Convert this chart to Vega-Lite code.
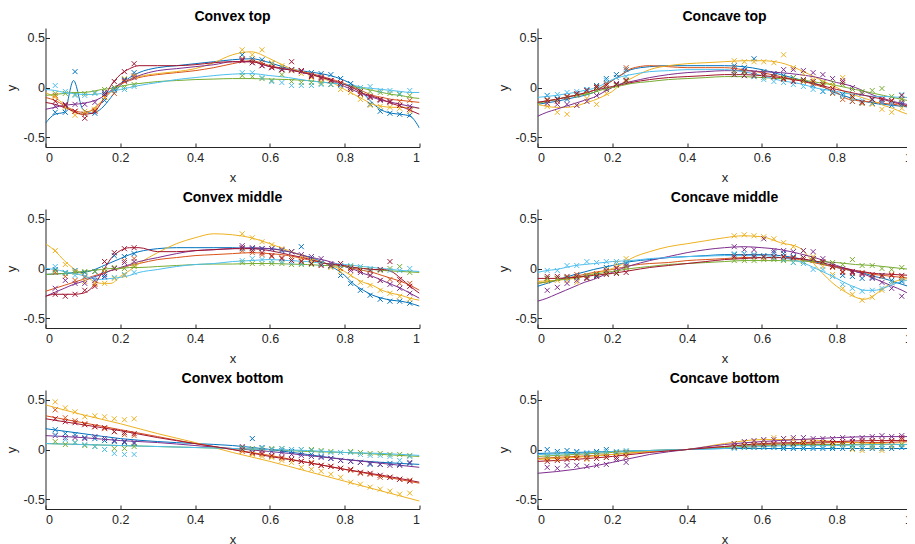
{
"$schema":"https://vega.github.io/schema/vega-lite/v6.json",
"background":"white",
"padding":{"left":5.5,"top":10,"right":-6,"bottom":0},
"data":{"values":[
{"p":"Convex top","t":"l","x":0,"a":-0.36,"b":-0.1,"c":-0.05,"d":-0.22,"e":-0.08,"f":-0.02,"g":-0.15},
{"p":"Convex top","t":"l","x":0.025,"a":-0.27,"b":-0.13,"c":-0.1,"d":-0.2,"e":-0.07,"f":-0.03,"g":-0.17},
{"p":"Convex top","t":"l","x":0.05,"a":-0.25,"b":-0.18,"c":-0.17,"d":-0.18,"e":-0.06,"f":-0.05,"g":-0.2},
{"p":"Convex top","t":"l","x":0.075,"a":0.07,"b":-0.23,"c":-0.25,"d":-0.17,"e":-0.05,"f":-0.06,"g":-0.24},
{"p":"Convex top","t":"l","x":0.1,"a":-0.22,"b":-0.25,"c":-0.27,"d":-0.16,"e":-0.05,"f":-0.07,"g":-0.27},
{"p":"Convex top","t":"l","x":0.125,"a":-0.26,"b":-0.23,"c":-0.22,"d":-0.14,"e":-0.04,"f":-0.07,"g":-0.26},
{"p":"Convex top","t":"l","x":0.15,"a":-0.21,"b":-0.14,"c":-0.14,"d":-0.1,"e":-0.02,"f":-0.06,"g":-0.15},
{"p":"Convex top","t":"l","x":0.175,"a":-0.1,"b":-0.04,"c":-0.04,"d":-0.03,"e":-0.01,"f":-0.04,"g":0.02},
{"p":"Convex top","t":"l","x":0.2,"a":0.02,"b":0.03,"c":0.04,"d":0.04,"e":0.01,"f":-0.02,"g":0.13},
{"p":"Convex top","t":"l","x":0.225,"a":0.1,"b":0.07,"c":0.08,"d":0.08,"e":0.03,"f":0,"g":0.19},
{"p":"Convex top","t":"l","x":0.25,"a":0.15,"b":0.1,"c":0.11,"d":0.12,"e":0.04,"f":0.02,"g":0.22},
{"p":"Convex top","t":"l","x":0.3,"a":0.2,"b":0.13,"c":0.14,"d":0.17,"e":0.06,"f":0.05,"g":0.22},
{"p":"Convex top","t":"l","x":0.35,"a":0.22,"b":0.15,"c":0.16,"d":0.19,"e":0.07,"f":0.08,"g":0.22},
{"p":"Convex top","t":"l","x":0.4,"a":0.24,"b":0.17,"c":0.19,"d":0.21,"e":0.08,"f":0.1,"g":0.23},
{"p":"Convex top","t":"l","x":0.45,"a":0.26,"b":0.2,"c":0.25,"d":0.23,"e":0.085,"f":0.12,"g":0.25},
{"p":"Convex top","t":"l","x":0.5,"a":0.28,"b":0.24,"c":0.33,"d":0.26,"e":0.09,"f":0.135,"g":0.26},
{"p":"Convex top","t":"l","x":0.55,"a":0.29,"b":0.27,"c":0.36,"d":0.26,"e":0.09,"f":0.14,"g":0.26},
{"p":"Convex top","t":"l","x":0.6,"a":0.25,"b":0.22,"c":0.29,"d":0.21,"e":0.085,"f":0.12,"g":0.21},
{"p":"Convex top","t":"l","x":0.65,"a":0.19,"b":0.18,"c":0.2,"d":0.18,"e":0.08,"f":0.1,"g":0.18},
{"p":"Convex top","t":"l","x":0.7,"a":0.16,"b":0.15,"c":0.14,"d":0.14,"e":0.07,"f":0.07,"g":0.14},
{"p":"Convex top","t":"l","x":0.75,"a":0.13,"b":0.1,"c":0.08,"d":0.09,"e":0.05,"f":0.05,"g":0.09},
{"p":"Convex top","t":"l","x":0.8,"a":0.07,"b":0.04,"c":-0.02,"d":0.01,"e":0.03,"f":0.03,"g":0.03},
{"p":"Convex top","t":"l","x":0.825,"a":0.02,"b":0,"c":-0.07,"d":-0.03,"e":0.01,"f":0.02,"g":-0.01},
{"p":"Convex top","t":"l","x":0.85,"a":-0.06,"b":-0.04,"c":-0.12,"d":-0.07,"e":-0.01,"f":0,"g":-0.06},
{"p":"Convex top","t":"l","x":0.875,"a":-0.16,"b":-0.08,"c":-0.17,"d":-0.1,"e":-0.03,"f":-0.01,"g":-0.09},
{"p":"Convex top","t":"l","x":0.9,"a":-0.23,"b":-0.1,"c":-0.19,"d":-0.13,"e":-0.05,"f":-0.02,"g":-0.12},
{"p":"Convex top","t":"l","x":0.925,"a":-0.26,"b":-0.12,"c":-0.2,"d":-0.15,"e":-0.07,"f":-0.03,"g":-0.16},
{"p":"Convex top","t":"l","x":0.95,"a":-0.27,"b":-0.13,"c":-0.2,"d":-0.17,"e":-0.08,"f":-0.04,"g":-0.19},
{"p":"Convex top","t":"l","x":0.975,"a":-0.29,"b":-0.14,"c":-0.2,"d":-0.19,"e":-0.1,"f":-0.05,"g":-0.23},
{"p":"Convex top","t":"l","x":1,"a":-0.41,"b":-0.15,"c":-0.21,"d":-0.21,"e":-0.11,"f":-0.05,"g":-0.27},
{"p":"Concave top","t":"l","x":0,"a":-0.17,"b":-0.15,"c":-0.17,"d":-0.29,"e":-0.16,"f":-0.1,"g":-0.15},
{"p":"Concave top","t":"l","x":0.025,"a":-0.155,"b":-0.135,"c":-0.19,"d":-0.25,"e":-0.14,"f":-0.09,"g":-0.135},
{"p":"Concave top","t":"l","x":0.05,"a":-0.14,"b":-0.12,"c":-0.2,"d":-0.22,"e":-0.12,"f":-0.08,"g":-0.12},
{"p":"Concave top","t":"l","x":0.075,"a":-0.12,"b":-0.1,"c":-0.2,"d":-0.19,"e":-0.1,"f":-0.065,"g":-0.1},
{"p":"Concave top","t":"l","x":0.1,"a":-0.1,"b":-0.08,"c":-0.19,"d":-0.16,"e":-0.08,"f":-0.05,"g":-0.08},
{"p":"Concave top","t":"l","x":0.125,"a":-0.08,"b":-0.06,"c":-0.16,"d":-0.13,"e":-0.07,"f":-0.03,"g":-0.055},
{"p":"Concave top","t":"l","x":0.15,"a":-0.05,"b":-0.03,"c":-0.13,"d":-0.1,"e":-0.05,"f":-0.01,"g":-0.03},
{"p":"Concave top","t":"l","x":0.175,"a":0.01,"b":0.01,"c":-0.09,"d":-0.05,"e":-0.02,"f":0.03,"g":-0.01},
{"p":"Concave top","t":"l","x":0.2,"a":0.07,"b":0.07,"c":-0.04,"d":0,"e":0,"f":0.08,"g":0.01},
{"p":"Concave top","t":"l","x":0.225,"a":0.13,"b":0.13,"c":0.04,"d":0.04,"e":0.02,"f":0.11,"g":0.03},
{"p":"Concave top","t":"l","x":0.25,"a":0.18,"b":0.19,"c":0.09,"d":0.06,"e":0.04,"f":0.13,"g":0.05},
{"p":"Concave top","t":"l","x":0.3,"a":0.21,"b":0.22,"c":0.18,"d":0.1,"e":0.06,"f":0.16,"g":0.08},
{"p":"Concave top","t":"l","x":0.35,"a":0.22,"b":0.21,"c":0.22,"d":0.13,"e":0.08,"f":0.17,"g":0.1},
{"p":"Concave top","t":"l","x":0.4,"a":0.22,"b":0.2,"c":0.24,"d":0.15,"e":0.09,"f":0.18,"g":0.11},
{"p":"Concave top","t":"l","x":0.45,"a":0.22,"b":0.2,"c":0.25,"d":0.16,"e":0.1,"f":0.18,"g":0.12},
{"p":"Concave top","t":"l","x":0.5,"a":0.22,"b":0.2,"c":0.26,"d":0.17,"e":0.11,"f":0.18,"g":0.13},
{"p":"Concave top","t":"l","x":0.55,"a":0.21,"b":0.18,"c":0.27,"d":0.17,"e":0.11,"f":0.16,"g":0.13},
{"p":"Concave top","t":"l","x":0.6,"a":0.18,"b":0.15,"c":0.27,"d":0.16,"e":0.1,"f":0.12,"g":0.12},
{"p":"Concave top","t":"l","x":0.65,"a":0.13,"b":0.11,"c":0.25,"d":0.15,"e":0.09,"f":0.07,"g":0.1},
{"p":"Concave top","t":"l","x":0.7,"a":0.08,"b":0.07,"c":0.18,"d":0.13,"e":0.08,"f":0.04,"g":0.07},
{"p":"Concave top","t":"l","x":0.75,"a":0.03,"b":0.02,"c":0.09,"d":0.1,"e":0.05,"f":-0.01,"g":0.03},
{"p":"Concave top","t":"l","x":0.8,"a":-0.06,"b":-0.05,"c":0,"d":0.05,"e":0.02,"f":-0.04,"g":-0.02},
{"p":"Concave top","t":"l","x":0.825,"a":-0.09,"b":-0.11,"c":-0.05,"d":0.03,"e":0,"f":-0.06,"g":-0.04},
{"p":"Concave top","t":"l","x":0.85,"a":-0.12,"b":-0.13,"c":-0.08,"d":0,"e":-0.02,"f":-0.07,"g":-0.06},
{"p":"Concave top","t":"l","x":0.875,"a":-0.14,"b":-0.14,"c":-0.11,"d":-0.04,"e":-0.04,"f":-0.08,"g":-0.08},
{"p":"Concave top","t":"l","x":0.9,"a":-0.16,"b":-0.15,"c":-0.14,"d":-0.08,"e":-0.06,"f":-0.09,"g":-0.1},
{"p":"Concave top","t":"l","x":0.925,"a":-0.17,"b":-0.16,"c":-0.18,"d":-0.11,"e":-0.08,"f":-0.09,"g":-0.12},
{"p":"Concave top","t":"l","x":0.95,"a":-0.18,"b":-0.17,"c":-0.21,"d":-0.14,"e":-0.1,"f":-0.095,"g":-0.15},
{"p":"Concave top","t":"l","x":0.975,"a":-0.19,"b":-0.18,"c":-0.25,"d":-0.16,"e":-0.12,"f":-0.1,"g":-0.17},
{"p":"Concave top","t":"l","x":1,"a":-0.2,"b":-0.2,"c":-0.28,"d":-0.18,"e":-0.14,"f":-0.1,"g":-0.2},
{"p":"Convex middle","t":"l","x":0,"a":-0.06,"b":-0.23,"c":0.25,"d":-0.28,"e":-0.06,"f":0,"g":-0.28},
{"p":"Convex middle","t":"l","x":0.025,"a":-0.055,"b":-0.2,"c":0.18,"d":-0.24,"e":-0.055,"f":-0.01,"g":-0.26},
{"p":"Convex middle","t":"l","x":0.05,"a":-0.05,"b":-0.17,"c":0.08,"d":-0.2,"e":-0.05,"f":-0.03,"g":-0.26},
{"p":"Convex middle","t":"l","x":0.075,"a":-0.045,"b":-0.14,"c":0,"d":-0.16,"e":-0.04,"f":-0.05,"g":-0.26},
{"p":"Convex middle","t":"l","x":0.1,"a":-0.04,"b":-0.11,"c":-0.06,"d":-0.13,"e":-0.03,"f":-0.07,"g":-0.25},
{"p":"Convex middle","t":"l","x":0.125,"a":-0.02,"b":-0.08,"c":-0.12,"d":-0.09,"e":-0.02,"f":-0.1,"g":-0.19},
{"p":"Convex middle","t":"l","x":0.15,"a":0.02,"b":-0.05,"c":-0.15,"d":-0.06,"e":-0.01,"f":-0.11,"g":-0.05},
{"p":"Convex middle","t":"l","x":0.175,"a":0.06,"b":-0.02,"c":-0.15,"d":-0.02,"e":0,"f":-0.1,"g":0.1},
{"p":"Convex middle","t":"l","x":0.2,"a":0.1,"b":0,"c":-0.08,"d":0.01,"e":0,"f":-0.09,"g":0.18},
{"p":"Convex middle","t":"l","x":0.225,"a":0.14,"b":0.03,"c":-0.02,"d":0.04,"e":0.01,"f":-0.07,"g":0.21},
{"p":"Convex middle","t":"l","x":0.25,"a":0.17,"b":0.05,"c":0.05,"d":0.07,"e":0.01,"f":-0.04,"g":0.21},
{"p":"Convex middle","t":"l","x":0.3,"a":0.2,"b":0.09,"c":0.16,"d":0.11,"e":0.02,"f":-0.01,"g":0.17},
{"p":"Convex middle","t":"l","x":0.35,"a":0.21,"b":0.11,"c":0.25,"d":0.15,"e":0.03,"f":0.02,"g":0.17},
{"p":"Convex middle","t":"l","x":0.4,"a":0.21,"b":0.13,"c":0.31,"d":0.18,"e":0.04,"f":0.04,"g":0.18},
{"p":"Convex middle","t":"l","x":0.45,"a":0.21,"b":0.14,"c":0.35,"d":0.19,"e":0.045,"f":0.05,"g":0.19},
{"p":"Convex middle","t":"l","x":0.5,"a":0.21,"b":0.15,"c":0.34,"d":0.2,"e":0.045,"f":0.07,"g":0.2},
{"p":"Convex middle","t":"l","x":0.55,"a":0.2,"b":0.16,"c":0.31,"d":0.21,"e":0.05,"f":0.08,"g":0.2},
{"p":"Convex middle","t":"l","x":0.6,"a":0.2,"b":0.15,"c":0.25,"d":0.2,"e":0.05,"f":0.09,"g":0.18},
{"p":"Convex middle","t":"l","x":0.65,"a":0.17,"b":0.13,"c":0.18,"d":0.17,"e":0.045,"f":0.08,"g":0.14},
{"p":"Convex middle","t":"l","x":0.7,"a":0.12,"b":0.09,"c":0.11,"d":0.12,"e":0.04,"f":0.07,"g":0.1},
{"p":"Convex middle","t":"l","x":0.75,"a":0.05,"b":0.05,"c":0.05,"d":0.08,"e":0.03,"f":0.05,"g":0.05},
{"p":"Convex middle","t":"l","x":0.8,"a":-0.07,"b":0.02,"c":-0.03,"d":0.02,"e":0.02,"f":0.04,"g":0.03},
{"p":"Convex middle","t":"l","x":0.825,"a":-0.16,"b":0,"c":-0.09,"d":-0.01,"e":0.01,"f":0.03,"g":0.01},
{"p":"Convex middle","t":"l","x":0.85,"a":-0.22,"b":-0.02,"c":-0.14,"d":-0.05,"e":0,"f":0.02,"g":0},
{"p":"Convex middle","t":"l","x":0.875,"a":-0.27,"b":-0.04,"c":-0.17,"d":-0.08,"e":-0.01,"f":0.01,"g":-0.01},
{"p":"Convex middle","t":"l","x":0.9,"a":-0.3,"b":-0.07,"c":-0.22,"d":-0.12,"e":-0.02,"f":0,"g":-0.01},
{"p":"Convex middle","t":"l","x":0.925,"a":-0.32,"b":-0.1,"c":-0.25,"d":-0.16,"e":-0.025,"f":-0.01,"g":-0.03},
{"p":"Convex middle","t":"l","x":0.95,"a":-0.33,"b":-0.13,"c":-0.27,"d":-0.2,"e":-0.03,"f":-0.02,"g":-0.1},
{"p":"Convex middle","t":"l","x":0.975,"a":-0.35,"b":-0.17,"c":-0.3,"d":-0.25,"e":-0.035,"f":-0.025,"g":-0.18},
{"p":"Convex middle","t":"l","x":1,"a":-0.38,"b":-0.22,"c":-0.32,"d":-0.3,"e":-0.04,"f":-0.03,"g":-0.25},
{"p":"Concave middle","t":"l","x":0,"a":-0.18,"b":-0.15,"c":-0.13,"d":-0.33,"e":-0.15,"f":-0.04,"g":-0.1},
{"p":"Concave middle","t":"l","x":0.025,"a":-0.15,"b":-0.135,"c":-0.125,"d":-0.3,"e":-0.135,"f":-0.02,"g":-0.1},
{"p":"Concave middle","t":"l","x":0.05,"a":-0.12,"b":-0.12,"c":-0.12,"d":-0.26,"e":-0.12,"f":-0.01,"g":-0.1},
{"p":"Concave middle","t":"l","x":0.075,"a":-0.09,"b":-0.1,"c":-0.11,"d":-0.22,"e":-0.105,"f":0.01,"g":-0.095},
{"p":"Concave middle","t":"l","x":0.1,"a":-0.06,"b":-0.08,"c":-0.1,"d":-0.18,"e":-0.09,"f":0.03,"g":-0.09},
{"p":"Concave middle","t":"l","x":0.125,"a":-0.035,"b":-0.06,"c":-0.08,"d":-0.14,"e":-0.075,"f":0.04,"g":-0.08},
{"p":"Concave middle","t":"l","x":0.15,"a":-0.01,"b":-0.04,"c":-0.05,"d":-0.11,"e":-0.06,"f":0.05,"g":-0.07},
{"p":"Concave middle","t":"l","x":0.175,"a":0.01,"b":-0.025,"c":-0.03,"d":-0.07,"e":-0.045,"f":0.06,"g":-0.06},
{"p":"Concave middle","t":"l","x":0.2,"a":0.03,"b":-0.01,"c":0,"d":-0.04,"e":-0.03,"f":0.07,"g":-0.05},
{"p":"Concave middle","t":"l","x":0.225,"a":0.05,"b":0.01,"c":0.04,"d":0,"e":-0.015,"f":0.075,"g":-0.035},
{"p":"Concave middle","t":"l","x":0.25,"a":0.07,"b":0.03,"c":0.1,"d":0.03,"e":0,"f":0.08,"g":-0.02},
{"p":"Concave middle","t":"l","x":0.3,"a":0.09,"b":0.05,"c":0.17,"d":0.08,"e":0.02,"f":0.1,"g":0.01},
{"p":"Concave middle","t":"l","x":0.35,"a":0.11,"b":0.06,"c":0.22,"d":0.12,"e":0.04,"f":0.11,"g":0.03},
{"p":"Concave middle","t":"l","x":0.4,"a":0.12,"b":0.08,"c":0.25,"d":0.16,"e":0.05,"f":0.12,"g":0.05},
{"p":"Concave middle","t":"l","x":0.45,"a":0.13,"b":0.09,"c":0.28,"d":0.19,"e":0.06,"f":0.125,"g":0.07},
{"p":"Concave middle","t":"l","x":0.5,"a":0.14,"b":0.1,"c":0.31,"d":0.21,"e":0.07,"f":0.13,"g":0.09},
{"p":"Concave middle","t":"l","x":0.55,"a":0.14,"b":0.11,"c":0.33,"d":0.22,"e":0.08,"f":0.13,"g":0.1},
{"p":"Concave middle","t":"l","x":0.6,"a":0.14,"b":0.11,"c":0.32,"d":0.21,"e":0.08,"f":0.13,"g":0.11},
{"p":"Concave middle","t":"l","x":0.65,"a":0.13,"b":0.11,"c":0.26,"d":0.19,"e":0.08,"f":0.11,"g":0.11},
{"p":"Concave middle","t":"l","x":0.7,"a":0.1,"b":0.09,"c":0.21,"d":0.15,"e":0.075,"f":0.07,"g":0.1},
{"p":"Concave middle","t":"l","x":0.75,"a":0.06,"b":0.05,"c":0,"d":0.1,"e":0.07,"f":-0.01,"g":0.07},
{"p":"Concave middle","t":"l","x":0.8,"a":0.01,"b":0.01,"c":-0.18,"d":0.03,"e":0.06,"f":-0.1,"g":0.02},
{"p":"Concave middle","t":"l","x":0.825,"a":-0.01,"b":-0.01,"c":-0.24,"d":0,"e":0.05,"f":-0.15,"g":0},
{"p":"Concave middle","t":"l","x":0.85,"a":-0.03,"b":-0.03,"c":-0.29,"d":-0.03,"e":0.04,"f":-0.19,"g":-0.02},
{"p":"Concave middle","t":"l","x":0.875,"a":-0.05,"b":-0.04,"c":-0.31,"d":-0.06,"e":0.035,"f":-0.22,"g":-0.035},
{"p":"Concave middle","t":"l","x":0.9,"a":-0.08,"b":-0.06,"c":-0.27,"d":-0.1,"e":0.03,"f":-0.22,"g":-0.05},
{"p":"Concave middle","t":"l","x":0.925,"a":-0.1,"b":-0.07,"c":-0.2,"d":-0.14,"e":0.02,"f":-0.2,"g":-0.055},
{"p":"Concave middle","t":"l","x":0.95,"a":-0.13,"b":-0.08,"c":-0.14,"d":-0.18,"e":0.01,"f":-0.16,"g":-0.06},
{"p":"Concave middle","t":"l","x":0.975,"a":-0.16,"b":-0.09,"c":-0.11,"d":-0.22,"e":0,"f":-0.13,"g":-0.065},
{"p":"Concave middle","t":"l","x":1,"a":-0.19,"b":-0.1,"c":-0.1,"d":-0.27,"e":-0.01,"f":-0.11,"g":-0.07},
{"p":"Convex bottom","t":"l","x":0,"a":0.21,"b":0.34,"c":0.45,"d":0.14,"e":0.06,"f":0.06,"g":0.31},
{"p":"Convex bottom","t":"l","x":0.1,"a":0.16,"b":0.27,"c":0.35,"d":0.12,"e":0.05,"f":0.05,"g":0.25},
{"p":"Convex bottom","t":"l","x":0.2,"a":0.11,"b":0.2,"c":0.26,"d":0.09,"e":0.04,"f":0.04,"g":0.19},
{"p":"Convex bottom","t":"l","x":0.3,"a":0.08,"b":0.13,"c":0.16,"d":0.07,"e":0.03,"f":0.03,"g":0.12},
{"p":"Convex bottom","t":"l","x":0.4,"a":0.06,"b":0.06,"c":0.07,"d":0.04,"e":0.02,"f":0.02,"g":0.06},
{"p":"Convex bottom","t":"l","x":0.5,"a":0.04,"b":0,"c":-0.03,"d":0.01,"e":0.01,"f":0.01,"g":0},
{"p":"Convex bottom","t":"l","x":0.6,"a":0,"b":-0.06,"c":-0.12,"d":-0.02,"e":0,"f":0,"g":-0.07},
{"p":"Convex bottom","t":"l","x":0.7,"a":-0.05,"b":-0.13,"c":-0.22,"d":-0.06,"e":-0.02,"f":-0.01,"g":-0.13},
{"p":"Convex bottom","t":"l","x":0.8,"a":-0.1,"b":-0.2,"c":-0.32,"d":-0.1,"e":-0.03,"f":-0.03,"g":-0.2},
{"p":"Convex bottom","t":"l","x":0.9,"a":-0.13,"b":-0.27,"c":-0.42,"d":-0.14,"e":-0.05,"f":-0.04,"g":-0.26},
{"p":"Convex bottom","t":"l","x":1,"a":-0.15,"b":-0.34,"c":-0.52,"d":-0.18,"e":-0.07,"f":-0.06,"g":-0.33},
{"p":"Concave bottom","t":"l","x":0,"a":-0.04,"b":-0.09,"c":-0.1,"d":-0.24,"e":-0.07,"f":-0.05,"g":-0.12},
{"p":"Concave bottom","t":"l","x":0.1,"a":-0.03,"b":-0.07,"c":-0.08,"d":-0.2,"e":-0.05,"f":-0.04,"g":-0.1},
{"p":"Concave bottom","t":"l","x":0.2,"a":-0.02,"b":-0.05,"c":-0.05,"d":-0.13,"e":-0.03,"f":-0.02,"g":-0.07},
{"p":"Concave bottom","t":"l","x":0.3,"a":-0.01,"b":-0.02,"c":-0.02,"d":-0.05,"e":-0.01,"f":-0.01,"g":-0.03},
{"p":"Concave bottom","t":"l","x":0.4,"a":0,"b":0,"c":0,"d":0,"e":0,"f":0,"g":0},
{"p":"Concave bottom","t":"l","x":0.5,"a":0.01,"b":0.03,"c":0.06,"d":0.05,"e":0.02,"f":0.01,"g":0.03},
{"p":"Concave bottom","t":"l","x":0.6,"a":0.01,"b":0.05,"c":0.1,"d":0.08,"e":0.04,"f":0.03,"g":0.06},
{"p":"Concave bottom","t":"l","x":0.7,"a":0.01,"b":0.06,"c":0.1,"d":0.1,"e":0.05,"f":0.04,"g":0.07},
{"p":"Concave bottom","t":"l","x":0.8,"a":0.01,"b":0.07,"c":0.08,"d":0.12,"e":0.05,"f":0.04,"g":0.08},
{"p":"Concave bottom","t":"l","x":0.9,"a":0.01,"b":0.07,"c":0.06,"d":0.13,"e":0.05,"f":0.05,"g":0.09},
{"p":"Concave bottom","t":"l","x":1,"a":0.01,"b":0.08,"c":0.05,"d":0.13,"e":0.05,"f":0.05,"g":0.09},
{"p":"Convex top","t":"m","x":0.026,"a":-0.25,"b":-0.08,"c":-0.09,"d":-0.19,"e":-0.06,"f":0.02,"g":-0.14},
{"p":"Convex top","t":"m","x":0.053,"a":-0.25,"b":-0.17,"c":-0.2,"d":-0.17,"e":-0.06,"f":-0.04,"g":-0.18},
{"p":"Convex top","t":"m","x":0.079,"a":0.16,"b":-0.24,"c":-0.28,"d":-0.17,"e":-0.07,"f":-0.08,"g":-0.24},
{"p":"Convex top","t":"m","x":0.105,"a":-0.27,"b":-0.27,"c":-0.24,"d":-0.17,"e":-0.06,"f":-0.08,"g":-0.31},
{"p":"Convex top","t":"m","x":0.132,"a":-0.26,"b":-0.23,"c":-0.22,"d":-0.15,"e":-0.05,"f":-0.06,"g":-0.24},
{"p":"Convex top","t":"m","x":0.158,"a":-0.13,"b":-0.1,"c":-0.1,"d":-0.05,"e":-0.02,"f":-0.06,"g":-0.07},
{"p":"Convex top","t":"m","x":0.184,"a":-0.02,"b":-0.06,"c":-0.03,"d":0,"e":0,"f":-0.03,"g":0.06},
{"p":"Convex top","t":"m","x":0.211,"a":0.08,"b":0.06,"c":0.09,"d":0.07,"e":0,"f":-0.02,"g":0.16},
{"p":"Convex top","t":"m","x":0.237,"a":0.15,"b":0.12,"c":0.11,"d":0.1,"e":0.03,"f":0.01,"g":0.24},
{"p":"Convex top","t":"m","x":0.526,"a":0.33,"b":0.29,"c":0.38,"d":0.28,"e":0.12,"f":0.15,"g":0.27},
{"p":"Convex top","t":"m","x":0.553,"a":0.29,"b":0.27,"c":0.33,"d":0.25,"e":0.11,"f":0.15,"g":0.25},
{"p":"Convex top","t":"m","x":0.579,"a":0.28,"b":0.25,"c":0.38,"d":0.22,"e":0.09,"f":0.1,"g":0.22},
{"p":"Convex top","t":"m","x":0.605,"a":0.24,"b":0.21,"c":0.25,"d":0.2,"e":0.07,"f":0.06,"g":0.2},
{"p":"Convex top","t":"m","x":0.632,"a":0.2,"b":0.18,"c":0.22,"d":0.18,"e":0.13,"f":0.05,"g":0.18},
{"p":"Convex top","t":"m","x":0.658,"a":0.18,"b":0.17,"c":0.18,"d":0.18,"e":0.06,"f":0.02,"g":0.26},
{"p":"Convex top","t":"m","x":0.684,"a":0.17,"b":0.17,"c":0.14,"d":0.16,"e":0.05,"f":0.02,"g":0.17},
{"p":"Convex top","t":"m","x":0.711,"a":0.15,"b":0.13,"c":0.1,"d":0.12,"e":0.05,"f":0.02,"g":0.11},
{"p":"Convex top","t":"m","x":0.737,"a":0.14,"b":0.11,"c":0.06,"d":0.1,"e":0.04,"f":0.03,"g":0.09},
{"p":"Convex top","t":"m","x":0.763,"a":0.13,"b":0.07,"c":0.03,"d":0.07,"e":0.03,"f":0.03,"g":0.07},
{"p":"Convex top","t":"m","x":0.789,"a":0.09,"b":0.04,"c":-0.02,"d":0.03,"e":0.02,"f":0.02,"g":0.05},
{"p":"Convex top","t":"m","x":0.816,"a":0.04,"b":-0.02,"c":-0.05,"d":-0.02,"e":0,"f":0,"g":0},
{"p":"Convex top","t":"m","x":0.842,"a":-0.07,"b":-0.07,"c":-0.12,"d":-0.06,"e":-0.02,"f":0,"g":-0.04},
{"p":"Convex top","t":"m","x":0.868,"a":-0.17,"b":-0.1,"c":-0.18,"d":-0.1,"e":-0.04,"f":0.01,"g":-0.09},
{"p":"Convex top","t":"m","x":0.895,"a":-0.24,"b":-0.12,"c":-0.19,"d":-0.13,"e":-0.05,"f":-0.03,"g":-0.12},
{"p":"Convex top","t":"m","x":0.921,"a":-0.26,"b":-0.14,"c":-0.2,"d":-0.14,"e":-0.06,"f":-0.03,"g":-0.15},
{"p":"Convex top","t":"m","x":0.947,"a":-0.27,"b":-0.14,"c":-0.21,"d":-0.18,"e":-0.07,"f":-0.06,"g":-0.18},
{"p":"Convex top","t":"m","x":0.974,"a":-0.28,"b":-0.13,"c":-0.24,"d":-0.19,"e":-0.08,"f":-0.03,"g":-0.22},
{"p":"Concave top","t":"m","x":0.026,"a":-0.08,"b":-0.12,"c":-0.19,"d":-0.16,"e":-0.13,"f":-0.08,"g":-0.13},
{"p":"Concave top","t":"m","x":0.053,"a":-0.11,"b":-0.14,"c":-0.25,"d":-0.17,"e":-0.12,"f":-0.07,"g":-0.12},
{"p":"Concave top","t":"m","x":0.079,"a":-0.12,"b":-0.1,"c":-0.27,"d":-0.17,"e":-0.09,"f":-0.05,"g":-0.09},
{"p":"Concave top","t":"m","x":0.105,"a":-0.07,"b":-0.07,"c":-0.18,"d":-0.18,"e":-0.08,"f":-0.04,"g":-0.06},
{"p":"Concave top","t":"m","x":0.132,"a":-0.02,"b":-0.03,"c":-0.11,"d":-0.14,"e":-0.06,"f":-0.02,"g":-0.03},
{"p":"Concave top","t":"m","x":0.158,"a":0.02,"b":0.01,"c":-0.17,"d":-0.08,"e":-0.03,"f":0,"g":0},
{"p":"Concave top","t":"m","x":0.184,"a":0.09,"b":0.04,"c":-0.06,"d":-0.02,"e":-0.01,"f":0.07,"g":0.02},
{"p":"Concave top","t":"m","x":0.211,"a":0.13,"b":0.1,"c":0.03,"d":0.04,"e":0.02,"f":0.1,"g":0.03},
{"p":"Concave top","t":"m","x":0.237,"a":0.18,"b":0.2,"c":0.08,"d":0.07,"e":0.06,"f":0.11,"g":0.07},
{"p":"Concave top","t":"m","x":0.526,"a":0.22,"b":0.2,"c":0.27,"d":0.17,"e":0.15,"f":0.13,"g":0.13},
{"p":"Concave top","t":"m","x":0.553,"a":0.2,"b":0.16,"c":0.26,"d":0.17,"e":0.15,"f":0.12,"g":0.12},
{"p":"Concave top","t":"m","x":0.579,"a":0.29,"b":0.14,"c":0.26,"d":0.15,"e":0.11,"f":0.11,"g":0.12},
{"p":"Concave top","t":"m","x":0.605,"a":0.16,"b":0.15,"c":0.26,"d":0.14,"e":0.1,"f":0.08,"g":0.12},
{"p":"Concave top","t":"m","x":0.632,"a":0.14,"b":0.1,"c":0.25,"d":0.14,"e":0.11,"f":0.06,"g":0.11},
{"p":"Concave top","t":"m","x":0.658,"a":0.12,"b":0.08,"c":0.33,"d":0.18,"e":0.1,"f":0.05,"g":0.09},
{"p":"Concave top","t":"m","x":0.684,"a":0.1,"b":0.07,"c":0.2,"d":0.18,"e":0.1,"f":0.03,"g":0.06},
{"p":"Concave top","t":"m","x":0.711,"a":0.07,"b":0.06,"c":0.14,"d":0.17,"e":0.07,"f":0.01,"g":0.08},
{"p":"Concave top","t":"m","x":0.737,"a":0.02,"b":0.04,"c":0.08,"d":0.15,"e":0.06,"f":-0.02,"g":0.06},
{"p":"Concave top","t":"m","x":0.763,"a":-0.04,"b":0.03,"c":0.05,"d":0.13,"e":0.05,"f":-0.04,"g":0.03},
{"p":"Concave top","t":"m","x":0.789,"a":-0.05,"b":-0.06,"c":0.02,"d":0.09,"e":0.05,"f":-0.05,"g":-0.01},
{"p":"Concave top","t":"m","x":0.816,"a":-0.07,"b":-0.12,"c":0.1,"d":0.07,"e":0.03,"f":-0.09,"g":0.05},
{"p":"Concave top","t":"m","x":0.842,"a":-0.14,"b":-0.14,"c":-0.1,"d":0,"e":-0.02,"f":-0.11,"g":-0.09},
{"p":"Concave top","t":"m","x":0.868,"a":-0.16,"b":-0.15,"c":-0.16,"d":-0.06,"e":-0.04,"f":-0.13,"g":-0.15},
{"p":"Concave top","t":"m","x":0.895,"a":-0.16,"b":-0.12,"c":-0.17,"d":-0.12,"e":-0.03,"f":-0.13,"g":-0.12},
{"p":"Concave top","t":"m","x":0.921,"a":-0.15,"b":-0.12,"c":-0.22,"d":-0.14,"e":-0.01,"f":-0.15,"g":-0.12},
{"p":"Concave top","t":"m","x":0.947,"a":-0.18,"b":-0.14,"c":-0.25,"d":-0.16,"e":-0.09,"f":-0.16,"g":-0.13},
{"p":"Concave top","t":"m","x":0.974,"a":-0.17,"b":-0.12,"c":-0.21,"d":-0.15,"e":-0.12,"f":-0.07,"g":-0.08},
{"p":"Convex middle","t":"m","x":0.026,"a":-0.01,"b":-0.04,"c":0.18,"d":-0.2,"e":-0.02,"f":0.02,"g":-0.26},
{"p":"Convex middle","t":"m","x":0.053,"a":-0.04,"b":-0.08,"c":0.04,"d":-0.12,"e":-0.05,"f":-0.04,"g":-0.28},
{"p":"Convex middle","t":"m","x":0.079,"a":-0.02,"b":-0.12,"c":-0.03,"d":-0.15,"e":-0.04,"f":-0.07,"g":-0.26},
{"p":"Convex middle","t":"m","x":0.105,"a":-0.04,"b":-0.09,"c":-0.13,"d":-0.15,"e":-0.03,"f":-0.08,"g":-0.22},
{"p":"Convex middle","t":"m","x":0.132,"a":-0.03,"b":-0.16,"c":-0.15,"d":-0.12,"e":-0.03,"f":-0.1,"g":-0.18},
{"p":"Convex middle","t":"m","x":0.158,"a":-0.06,"b":-0.04,"c":-0.15,"d":-0.08,"e":-0.01,"f":-0.09,"g":0.07},
{"p":"Convex middle","t":"m","x":0.184,"a":0.13,"b":0,"c":-0.1,"d":0,"e":0.01,"f":-0.09,"g":0.16},
{"p":"Convex middle","t":"m","x":0.211,"a":0.12,"b":0.08,"c":-0.07,"d":0.06,"e":0,"f":-0.06,"g":0.2},
{"p":"Convex middle","t":"m","x":0.237,"a":0.15,"b":0.1,"c":0.04,"d":0.07,"e":0.02,"f":-0.04,"g":0.21},
{"p":"Convex middle","t":"m","x":0.526,"a":0.2,"b":0.18,"c":0.35,"d":0.23,"e":0.06,"f":0.08,"g":0.21},
{"p":"Convex middle","t":"m","x":0.553,"a":0.2,"b":0.16,"c":0.31,"d":0.21,"e":0.05,"f":0.1,"g":0.18},
{"p":"Convex middle","t":"m","x":0.579,"a":0.2,"b":0.14,"c":0.27,"d":0.2,"e":0.05,"f":0.09,"g":0.16},
{"p":"Convex middle","t":"m","x":0.605,"a":0.2,"b":0.12,"c":0.24,"d":0.2,"e":0.05,"f":0.08,"g":0.13},
{"p":"Convex middle","t":"m","x":0.632,"a":0.18,"b":0.11,"c":0.2,"d":0.19,"e":0.05,"f":0.07,"g":0.1},
{"p":"Convex middle","t":"m","x":0.658,"a":0.17,"b":0.1,"c":0.17,"d":0.17,"e":0.04,"f":0.06,"g":0.08},
{"p":"Convex middle","t":"m","x":0.684,"a":0.22,"b":0.08,"c":0.12,"d":0.14,"e":0.04,"f":0.05,"g":0.07},
{"p":"Convex middle","t":"m","x":0.711,"a":0.1,"b":0.05,"c":0.08,"d":0.12,"e":0.04,"f":0.05,"g":0.05},
{"p":"Convex middle","t":"m","x":0.737,"a":0.05,"b":0.04,"c":0.04,"d":0.1,"e":0.04,"f":0.04,"g":0.03},
{"p":"Convex middle","t":"m","x":0.763,"a":0.02,"b":0.03,"c":0.01,"d":0.05,"e":0.03,"f":0.03,"g":0.03},
{"p":"Convex middle","t":"m","x":0.789,"a":-0.07,"b":0,"c":-0.03,"d":0.03,"e":0.03,"f":0.03,"g":0.05},
{"p":"Convex middle","t":"m","x":0.816,"a":-0.15,"b":0.01,"c":-0.07,"d":-0.02,"e":0.02,"f":0.03,"g":0},
{"p":"Convex middle","t":"m","x":0.842,"a":-0.22,"b":-0.02,"c":-0.14,"d":-0.04,"e":0,"f":0.02,"g":-0.02},
{"p":"Convex middle","t":"m","x":0.868,"a":-0.27,"b":-0.07,"c":-0.17,"d":-0.07,"e":-0.01,"f":0,"g":-0.02},
{"p":"Convex middle","t":"m","x":0.895,"a":-0.31,"b":-0.12,"c":-0.22,"d":-0.12,"e":-0.02,"f":-0.01,"g":-0.01},
{"p":"Convex middle","t":"m","x":0.921,"a":-0.33,"b":-0.11,"c":-0.25,"d":-0.16,"e":0,"f":-0.02,"g":0.07},
{"p":"Convex middle","t":"m","x":0.947,"a":-0.33,"b":-0.15,"c":-0.28,"d":-0.2,"e":0.02,"f":-0.02,"g":-0.11},
{"p":"Convex middle","t":"m","x":0.974,"a":-0.35,"b":-0.15,"c":-0.31,"d":-0.25,"e":-0.04,"f":0,"g":-0.18},
{"p":"Concave middle","t":"m","x":0.026,"a":-0.1,"b":-0.1,"c":-0.13,"d":-0.22,"e":-0.1,"f":-0.02,"g":-0.08},
{"p":"Concave middle","t":"m","x":0.053,"a":-0.1,"b":-0.1,"c":-0.12,"d":-0.19,"e":-0.1,"f":-0.02,"g":-0.08},
{"p":"Concave middle","t":"m","x":0.079,"a":-0.1,"b":-0.09,"c":-0.12,"d":-0.15,"e":-0.09,"f":0.03,"g":-0.08},
{"p":"Concave middle","t":"m","x":0.105,"a":-0.09,"b":-0.06,"c":-0.14,"d":-0.12,"e":-0.09,"f":0.03,"g":-0.08},
{"p":"Concave middle","t":"m","x":0.132,"a":-0.1,"b":-0.07,"c":-0.1,"d":-0.09,"e":-0.07,"f":0.07,"g":-0.1},
{"p":"Concave middle","t":"m","x":0.158,"a":-0.07,"b":-0.05,"c":-0.06,"d":-0.06,"e":-0.06,"f":0.06,"g":-0.08},
{"p":"Concave middle","t":"m","x":0.184,"a":0.01,"b":-0.03,"c":-0.01,"d":-0.02,"e":-0.05,"f":0.07,"g":-0.06},
{"p":"Concave middle","t":"m","x":0.211,"a":0.05,"b":0.01,"c":0.05,"d":0,"e":-0.04,"f":0.07,"g":-0.05},
{"p":"Concave middle","t":"m","x":0.237,"a":0.05,"b":0.02,"c":0.1,"d":0.03,"e":0.01,"f":0.07,"g":-0.04},
{"p":"Concave middle","t":"m","x":0.526,"a":0.14,"b":0.12,"c":0.33,"d":0.22,"e":0.08,"f":0.15,"g":0.12},
{"p":"Concave middle","t":"m","x":0.553,"a":0.15,"b":0.12,"c":0.34,"d":0.19,"e":0.08,"f":0.15,"g":0.12},
{"p":"Concave middle","t":"m","x":0.579,"a":0.14,"b":0.12,"c":0.33,"d":0.19,"e":0.08,"f":0.13,"g":0.12},
{"p":"Concave middle","t":"m","x":0.605,"a":0.13,"b":0.11,"c":0.32,"d":0.3,"e":0.09,"f":0.13,"g":0.12},
{"p":"Concave middle","t":"m","x":0.632,"a":0.16,"b":0.11,"c":0.3,"d":0.18,"e":0.09,"f":0.11,"g":0.12},
{"p":"Concave middle","t":"m","x":0.658,"a":0.15,"b":0.11,"c":0.26,"d":0.18,"e":0.08,"f":0.09,"g":0.12},
{"p":"Concave middle","t":"m","x":0.684,"a":0.12,"b":0.1,"c":0.22,"d":0.17,"e":0.06,"f":0.06,"g":0.11},
{"p":"Concave middle","t":"m","x":0.711,"a":0.11,"b":0.09,"c":0.18,"d":0.18,"e":0.07,"f":0.05,"g":0.11},
{"p":"Concave middle","t":"m","x":0.737,"a":0.1,"b":0.08,"c":0.12,"d":0.17,"e":0.08,"f":-0.01,"g":0.1},
{"p":"Concave middle","t":"m","x":0.763,"a":0.06,"b":0.06,"c":0.02,"d":0.1,"e":0.06,"f":-0.01,"g":0.07},
{"p":"Concave middle","t":"m","x":0.789,"a":0.02,"b":0.01,"c":-0.06,"d":0.04,"e":0.06,"f":-0.08,"g":0.02},
{"p":"Concave middle","t":"m","x":0.816,"a":-0.07,"b":-0.03,"c":-0.2,"d":0,"e":0.04,"f":-0.16,"g":-0.04},
{"p":"Concave middle","t":"m","x":0.842,"a":-0.08,"b":-0.05,"c":-0.26,"d":-0.04,"e":0.09,"f":-0.2,"g":-0.03},
{"p":"Concave middle","t":"m","x":0.868,"a":-0.1,"b":-0.04,"c":-0.32,"d":-0.06,"e":0.03,"f":-0.23,"g":-0.05},
{"p":"Concave middle","t":"m","x":0.895,"a":-0.09,"b":-0.07,"c":-0.29,"d":-0.1,"e":0.03,"f":-0.22,"g":-0.06},
{"p":"Concave middle","t":"m","x":0.921,"a":-0.07,"b":-0.08,"c":-0.22,"d":-0.14,"e":0,"f":-0.2,"g":-0.07},
{"p":"Concave middle","t":"m","x":0.947,"a":-0.12,"b":-0.06,"c":-0.14,"d":-0.2,"e":-0.01,"f":-0.14,"g":-0.07},
{"p":"Concave middle","t":"m","x":0.974,"a":-0.13,"b":-0.09,"c":-0.1,"d":-0.28,"e":0.01,"f":-0.12,"g":-0.07},
{"p":"Convex bottom","t":"m","x":0.026,"a":0.2,"b":0.4,"c":0.48,"d":0.14,"e":0.08,"f":0.15,"g":0.31},
{"p":"Convex bottom","t":"m","x":0.053,"a":0.16,"b":0.32,"c":0.42,"d":0.12,"e":0.05,"f":0.1,"g":0.28},
{"p":"Convex bottom","t":"m","x":0.079,"a":0.15,"b":0.29,"c":0.38,"d":0.12,"e":0.07,"f":0.07,"g":0.27},
{"p":"Convex bottom","t":"m","x":0.105,"a":0.12,"b":0.26,"c":0.33,"d":0.11,"e":0.04,"f":0.05,"g":0.25},
{"p":"Convex bottom","t":"m","x":0.132,"a":0.11,"b":0.23,"c":0.34,"d":0.13,"e":0.03,"f":0.03,"g":0.23},
{"p":"Convex bottom","t":"m","x":0.158,"a":0.09,"b":0.21,"c":0.33,"d":0.11,"e":0,"f":0,"g":0.22},
{"p":"Convex bottom","t":"m","x":0.184,"a":0.08,"b":0.18,"c":0.31,"d":0.09,"e":0.01,"f":-0.04,"g":0.18},
{"p":"Convex bottom","t":"m","x":0.211,"a":0.07,"b":0.15,"c":0.3,"d":0.08,"e":0.01,"f":-0.05,"g":0.17},
{"p":"Convex bottom","t":"m","x":0.237,"a":0.06,"b":0.14,"c":0.31,"d":0.07,"e":0.03,"f":-0.05,"g":0.16},
{"p":"Convex bottom","t":"m","x":0.526,"a":0.02,"b":-0.02,"c":-0.01,"d":0.03,"e":0.02,"f":0.01,"g":0},
{"p":"Convex bottom","t":"m","x":0.553,"a":0.11,"b":-0.04,"c":-0.05,"d":0,"e":0.01,"f":0,"g":-0.03},
{"p":"Convex bottom","t":"m","x":0.579,"a":0.02,"b":-0.05,"c":-0.07,"d":-0.01,"e":0.01,"f":0.02,"g":-0.04},
{"p":"Convex bottom","t":"m","x":0.605,"a":0,"b":-0.07,"c":-0.08,"d":-0.02,"e":0.01,"f":0,"g":-0.06},
{"p":"Convex bottom","t":"m","x":0.632,"a":-0.01,"b":-0.09,"c":-0.11,"d":-0.03,"e":0.01,"f":0.01,"g":-0.08},
{"p":"Convex bottom","t":"m","x":0.658,"a":-0.02,"b":-0.1,"c":-0.13,"d":-0.05,"e":0,"f":0,"g":-0.1},
{"p":"Convex bottom","t":"m","x":0.684,"a":-0.04,"b":-0.12,"c":-0.18,"d":-0.06,"e":0,"f":0,"g":-0.12},
{"p":"Convex bottom","t":"m","x":0.711,"a":-0.05,"b":-0.13,"c":-0.2,"d":-0.07,"e":0,"f":-0.01,"g":-0.14},
{"p":"Convex bottom","t":"m","x":0.737,"a":-0.07,"b":-0.16,"c":-0.22,"d":-0.08,"e":-0.01,"f":-0.02,"g":-0.16},
{"p":"Convex bottom","t":"m","x":0.763,"a":-0.09,"b":-0.17,"c":-0.25,"d":-0.09,"e":-0.02,"f":-0.03,"g":-0.17},
{"p":"Convex bottom","t":"m","x":0.789,"a":-0.11,"b":-0.19,"c":-0.28,"d":-0.11,"e":-0.03,"f":-0.03,"g":-0.19},
{"p":"Convex bottom","t":"m","x":0.816,"a":-0.12,"b":-0.21,"c":-0.33,"d":-0.12,"e":-0.02,"f":-0.03,"g":-0.2},
{"p":"Convex bottom","t":"m","x":0.842,"a":-0.13,"b":-0.24,"c":-0.35,"d":-0.13,"e":-0.03,"f":-0.05,"g":-0.23},
{"p":"Convex bottom","t":"m","x":0.868,"a":-0.15,"b":-0.25,"c":-0.38,"d":-0.14,"e":-0.04,"f":-0.06,"g":-0.24},
{"p":"Convex bottom","t":"m","x":0.895,"a":-0.15,"b":-0.28,"c":-0.4,"d":-0.15,"e":-0.04,"f":-0.06,"g":-0.26},
{"p":"Convex bottom","t":"m","x":0.921,"a":-0.14,"b":-0.28,"c":-0.42,"d":-0.16,"e":-0.05,"f":-0.07,"g":-0.28},
{"p":"Convex bottom","t":"m","x":0.947,"a":-0.15,"b":-0.3,"c":-0.45,"d":-0.16,"e":-0.05,"f":-0.11,"g":-0.3},
{"p":"Convex bottom","t":"m","x":0.974,"a":-0.14,"b":-0.31,"c":-0.44,"d":-0.13,"e":-0.06,"f":-0.07,"g":-0.32},
{"p":"Concave bottom","t":"m","x":0.026,"a":0,"b":-0.09,"c":-0.1,"d":-0.18,"e":-0.07,"f":-0.05,"g":-0.12},
{"p":"Concave bottom","t":"m","x":0.053,"a":-0.02,"b":-0.09,"c":-0.1,"d":-0.19,"e":-0.06,"f":-0.04,"g":-0.11},
{"p":"Concave bottom","t":"m","x":0.079,"a":-0.01,"b":-0.08,"c":-0.08,"d":-0.16,"e":-0.06,"f":-0.04,"g":-0.1},
{"p":"Concave bottom","t":"m","x":0.105,"a":-0.02,"b":-0.06,"c":-0.08,"d":-0.16,"e":-0.05,"f":-0.03,"g":-0.09},
{"p":"Concave bottom","t":"m","x":0.132,"a":-0.04,"b":-0.06,"c":-0.1,"d":-0.17,"e":-0.05,"f":-0.03,"g":-0.09},
{"p":"Concave bottom","t":"m","x":0.158,"a":-0.02,"b":-0.06,"c":-0.07,"d":-0.16,"e":-0.04,"f":-0.03,"g":-0.09},
{"p":"Concave bottom","t":"m","x":0.184,"a":0,"b":-0.06,"c":-0.08,"d":-0.15,"e":-0.04,"f":-0.02,"g":-0.08},
{"p":"Concave bottom","t":"m","x":0.211,"a":-0.02,"b":-0.04,"c":-0.06,"d":-0.1,"e":-0.03,"f":-0.02,"g":-0.08},
{"p":"Concave bottom","t":"m","x":0.237,"a":-0.03,"b":-0.03,"c":-0.05,"d":-0.13,"e":-0.02,"f":-0.01,"g":-0.07},
{"p":"Concave bottom","t":"m","x":0.526,"a":0.02,"b":0.03,"c":0.06,"d":0.06,"e":0.02,"f":0.01,"g":0.03},
{"p":"Concave bottom","t":"m","x":0.553,"a":0.02,"b":0.04,"c":0.07,"d":0.08,"e":0.03,"f":0.02,"g":0.04},
{"p":"Concave bottom","t":"m","x":0.579,"a":0.02,"b":0.04,"c":0.08,"d":0.09,"e":0.03,"f":0.02,"g":0.05},
{"p":"Concave bottom","t":"m","x":0.605,"a":0.02,"b":0.05,"c":0.09,"d":0.1,"e":0.04,"f":0.02,"g":0.05},
{"p":"Concave bottom","t":"m","x":0.632,"a":0.02,"b":0.05,"c":0.12,"d":0.1,"e":0.04,"f":0.02,"g":0.06},
{"p":"Concave bottom","t":"m","x":0.658,"a":0.01,"b":0.06,"c":0.11,"d":0.11,"e":0.04,"f":0.02,"g":0.06},
{"p":"Concave bottom","t":"m","x":0.684,"a":0.01,"b":0.06,"c":0.1,"d":0.12,"e":0.05,"f":0.02,"g":0.06},
{"p":"Concave bottom","t":"m","x":0.711,"a":0.01,"b":0.06,"c":0.08,"d":0.12,"e":0.05,"f":0.02,"g":0.07},
{"p":"Concave bottom","t":"m","x":0.737,"a":0.01,"b":0.06,"c":0.07,"d":0.11,"e":0.05,"f":0.02,"g":0.07},
{"p":"Concave bottom","t":"m","x":0.763,"a":0.01,"b":0.07,"c":0.07,"d":0.11,"e":0.05,"f":0.02,"g":0.07},
{"p":"Concave bottom","t":"m","x":0.789,"a":0.01,"b":0.07,"c":0.05,"d":0.11,"e":0.04,"f":0.02,"g":0.07},
{"p":"Concave bottom","t":"m","x":0.816,"a":0.01,"b":0.06,"c":0.03,"d":0.12,"e":0.05,"f":0.03,"g":0.08},
{"p":"Concave bottom","t":"m","x":0.842,"a":0.01,"b":0.07,"c":0,"d":0.11,"e":0.04,"f":0.03,"g":0.08},
{"p":"Concave bottom","t":"m","x":0.868,"a":0.01,"b":0.07,"c":-0.01,"d":0.12,"e":0.05,"f":0.03,"g":0.09},
{"p":"Concave bottom","t":"m","x":0.895,"a":0.01,"b":0.08,"c":0.02,"d":0.13,"e":0.04,"f":0.03,"g":0.09},
{"p":"Concave bottom","t":"m","x":0.921,"a":0.01,"b":0.07,"c":-0.01,"d":0.14,"e":0.05,"f":0.03,"g":0.09},
{"p":"Concave bottom","t":"m","x":0.947,"a":0.01,"b":0.08,"c":0.03,"d":0.13,"e":0.04,"f":0.04,"g":0.09},
{"p":"Concave bottom","t":"m","x":0.974,"a":0.02,"b":0.1,"c":0.05,"d":0.14,"e":0.05,"f":0.03,"g":0.12}
]},
"transform":[{"fold":["a","b","c","d","e","f","g"],"as":["s","v"]}],
"facet":{"field":"p","type":"nominal","sort":["Convex top","Concave top","Convex middle","Concave middle","Convex bottom","Concave bottom"],
 "header":{"title":null,"labelFont":"Liberation Sans","labelFontSize":14,"labelFontWeight":"bold","labelColor":"#000000","labelPadding":4}},
"columns":2,
"spacing":{"row":62,"column":118},
"bounds":"flush",
"resolve":{"axis":{"x":"independent","y":"independent"}},
"spec":{
 "width":374,"height":119,
 "encoding":{
  "x":{"field":"x","type":"quantitative","scale":{"domain":[0,1],"nice":false},
       "axis":{"title":"x","values":[0,0.2,0.4,0.6,0.8,1],"labelExpr":"format(datum.value,'~g')","labelPadding":8,"titlePadding":8}},
  "y":{"field":"v","type":"quantitative","scale":{"domain":[-0.6,0.6],"nice":false},
       "axis":{"title":"y","values":[-0.5,0,0.5],"labelExpr":"datum.value < 0 ? '-' + format(-datum.value,'~g') : format(datum.value,'~g')","labelPadding":5,"titlePadding":4}},
  "color":{"field":"s","type":"nominal","legend":null,
       "scale":{"domain":["a","b","c","d","e","f","g"],"range":["#0072BD","#D95319","#EDB120","#7E2F8E","#77AC30","#4DBEEE","#A2142F"]}}
 },
 "layer":[
  {"transform":[{"filter":"datum.t == 'l'"}],
   "mark":{"type":"line","interpolate":"monotone","strokeWidth":1,"clip":true}},
  {"transform":[{"filter":"datum.t == 'm'"}],
   "mark":{"type":"point","shape":"M-1,-1L1,1M-1,1L1,-1","filled":false,"strokeWidth":1,"size":25,"opacity":1}}
 ]
},
"config":{
 "view":{"stroke":null},
 "axis":{"grid":false,"domainColor":"#262626","domainWidth":1,"tickColor":"#262626","tickSize":-4,"tickWidth":1,
  "labelFont":"Liberation Sans","labelFontSize":12.5,"labelColor":"#262626",
  "titleFont":"Liberation Sans","titleFontSize":13,"titleFontWeight":"normal","titleColor":"#262626"}
}
}
